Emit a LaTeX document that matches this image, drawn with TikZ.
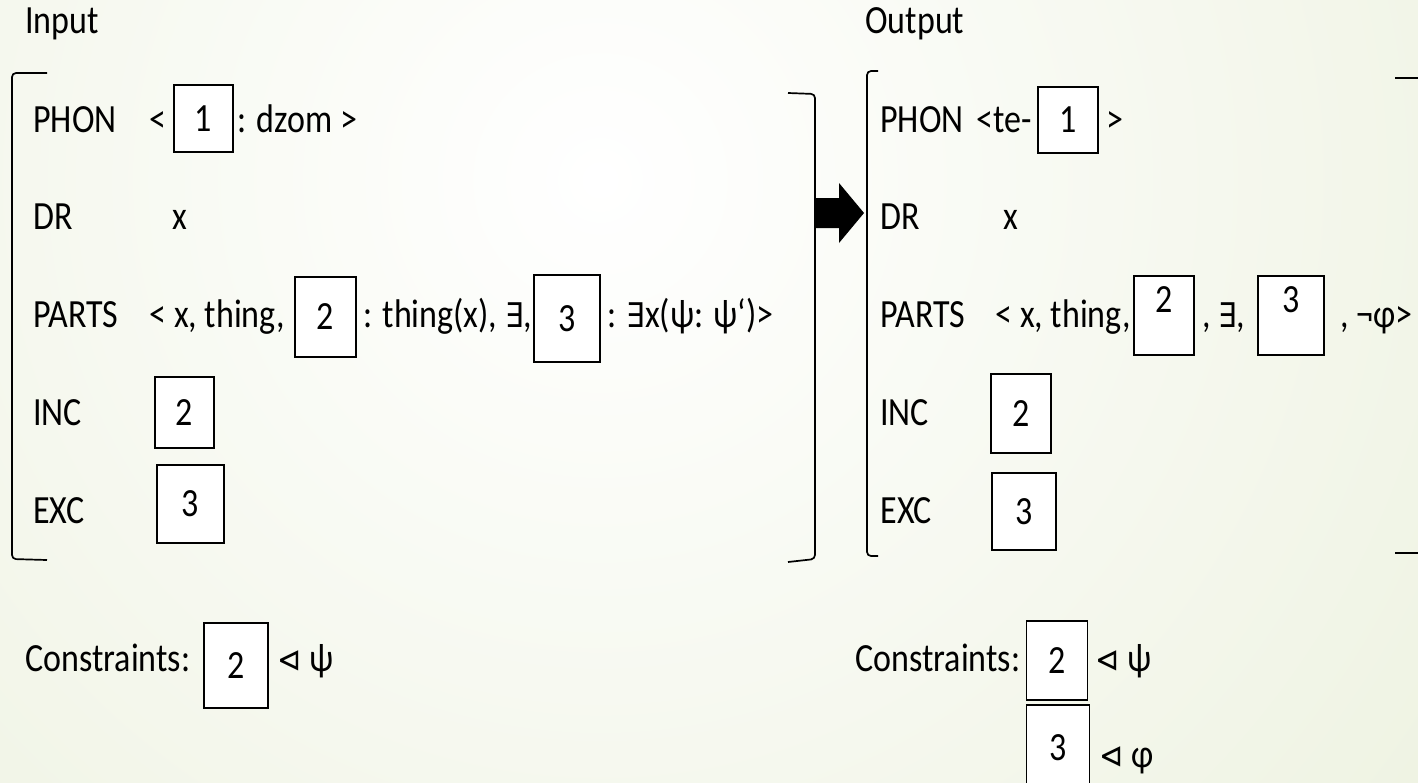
\documentclass[tikz,border=0pt]{standalone}
\usepackage{fontspec}
\setmainfont{Carlito}[FakeStretch=0.85]
\newfontfamily\symfont{DejaVu Sans}[FakeStretch=0.85]
\usepackage{tikz}
\definecolor{slidegreen}{RGB}{228,235,208}
\tikzstyle{slot}=[draw, fill=white, line width=0.6pt, inner sep=0pt]
\tikzstyle{thickslot}=[slot, line width=1.3pt]
\tikzstyle{word}=[anchor=base west, inner sep=0pt]
\tikzstyle{bracket}=[line width=0.85pt, rounded corners=2pt]
\providecommand{\word}{\node[word]}
\providecommand{\featbox}{\node[slot]}
\newcommand{\exq}{{\symfont\fontsize{17}{20}\selectfont ∃}}
\newcommand{\tri}{{\symfont\fontsize{17}{20}\selectfont ⊲}}

\begin{document}
\begin{tikzpicture}[x=0.5pt, y=-0.5pt, font=\fontsize{20}{24}\selectfont]
\useasboundingbox (0,0) rectangle (1418,782);
% background
\begin{scope}
\clip (0,0) rectangle (1418,782);
\shade[inner color=white, outer color=slidegreen] (600,180) circle (1700);
\end{scope}

% input structure
\word (inlabel) at (25,33) {Input};
\draw[bracket] (47,73) -- (12,73) -- (12,559) -- (47,560);
\draw[bracket] (788,93) -- (815,94) -- (815,559) -- (788,562);
\word (inphon) at (33,132) {PHON};
\word (inphonl) at (149,132) {<};
\featbox[minimum width=29.5pt, minimum height=33.5pt] (inb1) at (203.5,118.5) {1};
\word (inphonr) at (237,132) {: dzom >};
\word (indr) at (33,229) {DR};
\word (indrx) at (172,229) {x};
\word (inparts) at (33,327) {PARTS};
\word (inpartsa) at (149,327) {< x, thing,};
\featbox[minimum width=30.5pt, minimum height=40pt] (inb2) at (325.5,317) {2};
\word (inpartsb) at (363,327) {: thing(x), \exq,};
\featbox[minimum width=33pt, minimum height=43.5pt] (inb3) at (567,318.5) {3};
\word (inpartsc) at (607,327) {: \exq x(ψ: ψ‘)>};
\word (ininc) at (33,425) {INC};
\featbox[minimum width=29.5pt, minimum height=35.5pt] (inincb) at (184.5,412.5) {2};
\word (inexc) at (33,523) {EXC};
\node[thickslot, minimum width=33.5pt, minimum height=39pt] (inexcb) at (190.5,504) {3};

% rule arrow
\fill (815,198) -- (839,198) -- (839,183) -- (864,213) -- (839,243) -- (839,228) -- (815,228) -- cycle;

% output structure
\word (outlabel) at (865,33) {Output};
\draw[bracket] (878,71) -- (867,71) -- (867,556) -- (878,556);
\draw[bracket] (1395,78) -- (1422,78) -- (1422,553) -- (1395,553);
\word (outphon) at (880,132) {PHON};
\word (outphonl) at (976,132) {<te-};
\featbox[minimum width=30pt, minimum height=33pt] (outb1) at (1068,120) {1};
\word (outphonr) at (1106,132) {>};
\word (outdr) at (880,229) {DR};
\word (outdrx) at (1003,229) {x};
\word (outparts) at (880,327) {PARTS};
\word (outpartsa) at (995,327) {< x, thing,};
\featbox[minimum width=30pt, minimum height=39.5pt, text depth=16pt] (outb2) at (1164,315.5) {2};
\word (outpartsb) at (1202,327) {, \exq,};
\featbox[minimum width=33pt, minimum height=39.5pt, text depth=16pt] (outb3) at (1291,315.5) {3};
\word (outpartsc) at (1340,327) {, ¬φ>};
\word (outinc) at (880,425) {INC};
\featbox[minimum width=30pt, minimum height=39.5pt] (outincb) at (1021,413.5) {2};
\word (outexc) at (880,523) {EXC};
\node[thickslot, minimum width=32pt, minimum height=38.5pt] (outexcb) at (1024,511.5) {3};

% constraints
\word (incon) at (25,671) {Constraints:};
\featbox[minimum width=32pt, minimum height=42.5pt] (inconb) at (236,665.5) {2};
\word (inconr) at (277,671) {\tri\ ψ};
\word (outcon) at (855,671) {Constraints:};
\featbox[minimum width=30.5pt, minimum height=39.5pt] (outconb) at (1057,660.5) {2};
\word (outconr) at (1095,671) {\tri\ ψ};
\featbox[minimum width=31.5pt, minimum height=42.5pt] (outconc) at (1058,747.5) {3};
\word (outconrr) at (1099,767) {\tri\ φ};
\end{tikzpicture}
\end{document}
